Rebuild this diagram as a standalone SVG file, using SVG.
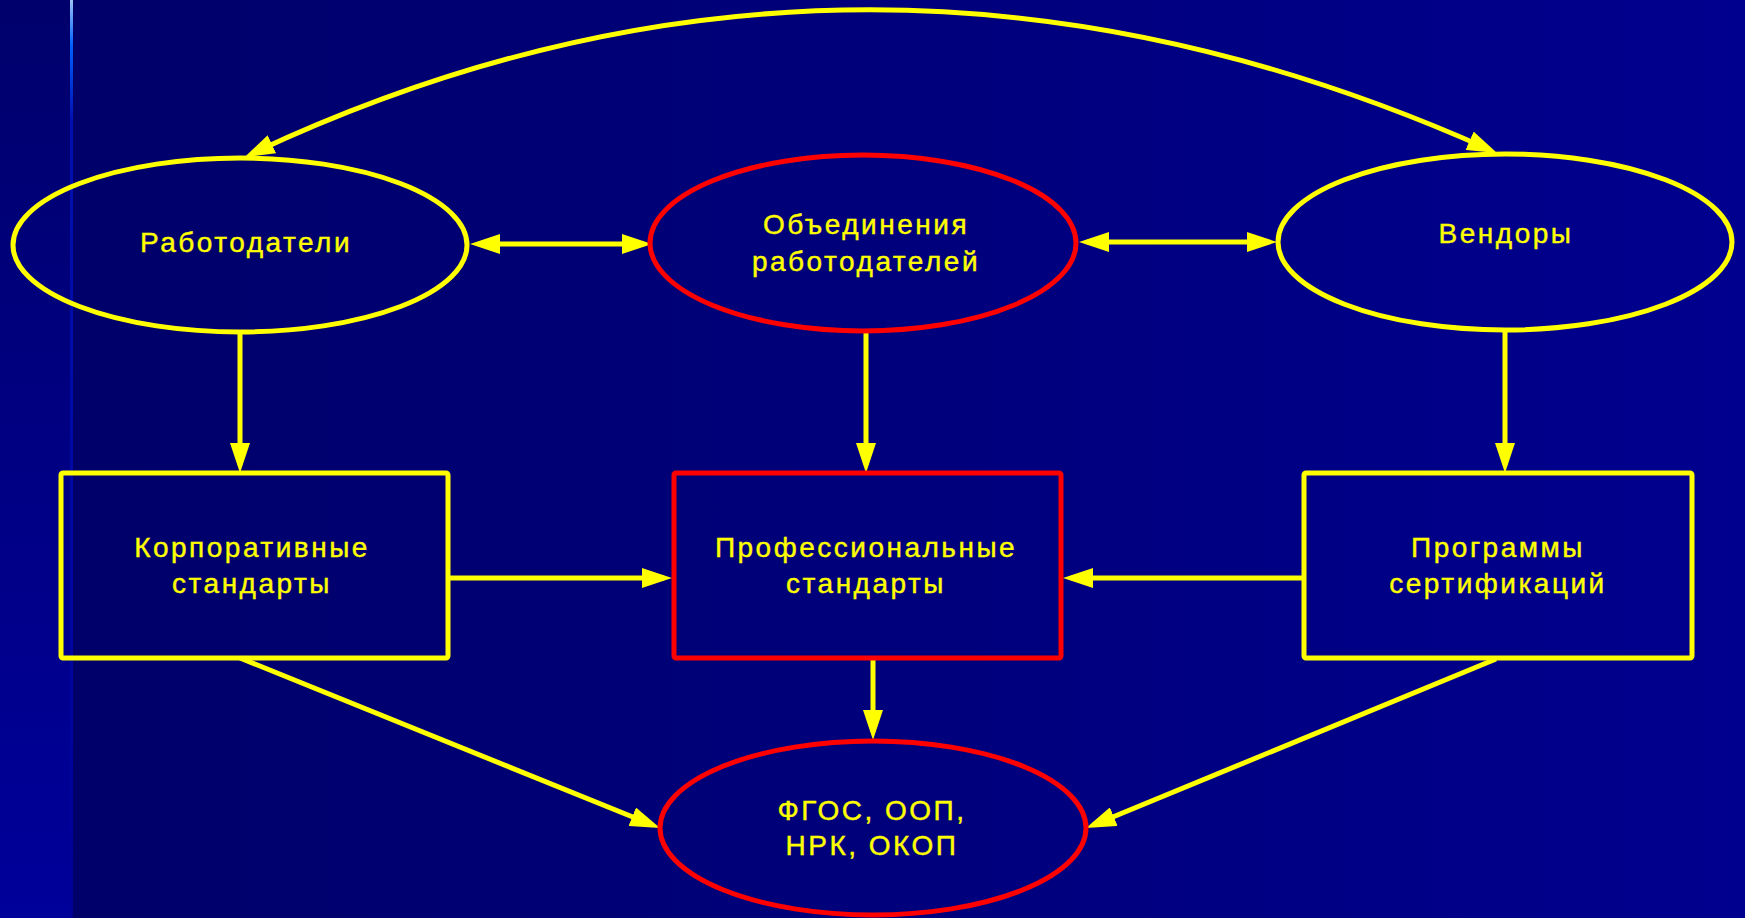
<svg xmlns="http://www.w3.org/2000/svg" width="1745" height="918" viewBox="0 0 1745 918">
<defs>
<linearGradient id="bgMain" x1="0" y1="0" x2="1" y2="0">
<stop offset="0" stop-color="#000068"/>
<stop offset="1" stop-color="#00008E"/>
</linearGradient>
<linearGradient id="bgLeft" x1="0" y1="0" x2="0" y2="1">
<stop offset="0" stop-color="#00006C"/>
<stop offset="1" stop-color="#00009A"/>
</linearGradient>
<linearGradient id="edge" x1="0" y1="0" x2="0" y2="1">
<stop offset="0" stop-color="#9CC2F2"/>
<stop offset="0.05" stop-color="#0060FF"/>
<stop offset="0.13" stop-color="#0010B0"/>
<stop offset="1" stop-color="#000096"/>
</linearGradient>
<marker id="ah" markerUnits="userSpaceOnUse" markerWidth="30" markerHeight="20" refX="22" refY="10" orient="auto-start-reverse">
<path d="M0,0 L30,10 L0,20 z" fill="#FFFF00"/>
</marker>
<style>
.y{fill:none;stroke:#FFFF00;stroke-width:5}
.r{fill:none;stroke:#FF0000;stroke-width:5}
.c{fill:none;stroke:#FFFF00;stroke-width:5;marker-end:url(#ah)}
.b{fill:none;stroke:#FFFF00;stroke-width:5;marker-start:url(#ah);marker-end:url(#ah)}
.t{fill:#FFFF00;stroke:#FFFF00;stroke-width:0.4;font-family:"Liberation Sans",Arial,sans-serif;font-size:28px;letter-spacing:2.5px;text-anchor:middle}
</style>
</defs>
<rect x="0" y="0" width="1745" height="918" fill="url(#bgMain)"/>
<rect x="0" y="0" width="71" height="918" fill="url(#bgLeft)"/>
<rect x="70" y="0" width="3" height="918" fill="url(#edge)"/>

<g id="connectors">
<path class="b" d="M252,153.6 Q860,-132 1489.7,149.7"/>
<line class="b" x1="478" y1="244" x2="644" y2="244"/>
<line class="b" x1="1087" y1="242" x2="1269" y2="242"/>
<line class="c" x1="240" y1="332" x2="240" y2="465"/>
<line class="c" x1="866" y1="332" x2="866" y2="465"/>
<line class="c" x1="1505" y1="330" x2="1505" y2="465"/>
<line class="c" x1="448" y1="578" x2="664" y2="578"/>
<line class="c" x1="1304" y1="578" x2="1071" y2="578"/>
<line class="c" x1="873" y1="658" x2="873" y2="732"/>
<line class="c" x1="240" y1="658" x2="652.6" y2="825"/>
<line class="c" x1="1496" y1="659" x2="1093.4" y2="825"/>
</g>

<g id="employers">
<ellipse class="y" cx="240" cy="245" rx="227" ry="87"/>
<text class="t" x="246" y="252">Работодатели</text>
</g>
<g id="associations">
<ellipse class="r" cx="863" cy="243" rx="213" ry="88"/>
<text class="t" x="866" y="234">Объединения</text>
<text class="t" x="866" y="271">работодателей</text>
</g>
<g id="vendors">
<ellipse class="y" cx="1505" cy="242" rx="227" ry="88"/>
<text class="t" x="1506" y="243">Вендоры</text>
</g>
<g id="corporate">
<rect class="y" x="61" y="473" width="387" height="185" rx="2"/>
<text class="t" x="252" y="557">Корпоративные</text>
<text class="t" x="252" y="593">стандарты</text>
</g>
<g id="professional">
<rect class="r" x="674" y="473" width="387" height="185" rx="2"/>
<text class="t" x="866" y="557">Профессиональные</text>
<text class="t" x="866" y="593">стандарты</text>
</g>
<g id="certification">
<rect class="y" x="1304" y="473" width="388" height="185" rx="2"/>
<text class="t" x="1498" y="557">Программы</text>
<text class="t" x="1498" y="593">сертификаций</text>
</g>
<g id="fgos">
<ellipse class="r" cx="873" cy="828" rx="213" ry="87"/>
<text class="t" x="872" y="820">ФГОС, ООП,</text>
<text class="t" x="872" y="855">НРК, ОКОП</text>
</g>
</svg>
